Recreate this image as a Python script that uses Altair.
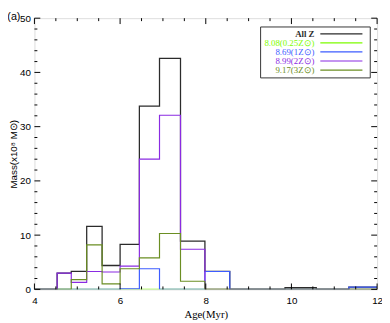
import altair as alt
import pandas as pd

# Bin edges (Myr) and masses (x10^8 Msun) per bin
edges = [4.0, 4.53, 4.86, 5.22, 5.58, 6.00, 6.45, 6.92, 7.41, 7.98, 8.56, 9.18, 9.85, 10.58, 11.34, 12.0]
all_z = [0, 3.0, 3.3, 11.6, 4.4, 8.3, 33.8, 42.6, 8.9, 3.3, 0, 0, 0.3, 0, 0.4]
z025 = [0, 0, 0, 0, 0, 0, 0, 0, 0, 0, 0, 0, 0, 0, 0]
z1 = [0, 0, 0, 0, 0, 0.1, 3.8, 0, 0, 3.3, 0, 0, 0, 0, 0.4]
z2 = [0, 3.0, 1.3, 3.3, 3.2, 4.3, 24.0, 32.1, 7.4, 0, 0, 0, 0, 0, 0]
z3 = [0, 0, 1.8, 8.2, 1.0, 3.8, 5.8, 10.3, 1.5, 0, 0, 0, 0, 0, 0]

series_names = ["All Z", "8.08(0.25Z⊙)", "8.69(1Z⊙)", "8.99(2Z⊙)", "9.17(3Z⊙)"]
series_values = [all_z, z025, z1, z2, z3]
colors = ["#2b2b2b", "#7cfc00", "#3d5cff", "#8a2be2", "#6b8e23"]

x_major = [4, 6, 8, 10, 12]
x_minor = [4.5, 5, 5.5, 6.5, 7, 7.5, 8.5, 9, 9.5, 10.5, 11, 11.5]
y_major = [0, 10, 20, 30, 40, 50]
y_minor = [v for v in range(2, 50, 2) if v % 10 != 0]

W, H = 350, 277

xscale = alt.Scale(domain=[4, 12], nice=False, zero=False)
yscale = alt.Scale(domain=[0, 50], nice=False)

x_axis = alt.Axis(values=x_major, ticks=False, domain=False, grid=False, labelFlush=False,
                  labelPadding=6, labelFont="Liberation Sans", labelFontSize=10, labelColor="#000",
                  title="Age(Myr)", titleFont="Liberation Serif", titleFontSize=11,
                  titleFontWeight="normal", titleColor="#000", titleX=W / 2, titleY=26,
                  titleBaseline="middle", titleAlign="center", labelOverlap=False)
y_axis = alt.Axis(values=y_major, ticks=False, domain=False, grid=False,
                  labelPadding=4, labelFont="Liberation Sans", labelFontSize=10, labelColor="#000",
                  title="Mass(x10⁸ M⊙)", titleFont="Liberation Sans", titleFontSize=10,
                  titleFontWeight="normal", titleColor="#000", titleX=-21, titleY=H / 2,
                  titleAngle=-90, titleAlign="center", titleBaseline="middle", labelOverlap=False)


def X(field):
    return alt.X(field, scale=xscale, axis=x_axis)


def Y(field):
    return alt.Y(field, scale=yscale, axis=y_axis)


layers = []
for i, (name, vals) in enumerate(zip(series_names, series_values)):
    df = pd.DataFrame({"age": edges, "mass": list(vals) + [vals[-1]], "series": name})
    layers.append(
        alt.Chart(df).mark_line(interpolate="step-after", color=colors[i],
                                strokeWidth=1.3 if i == 0 else 1.2, clip=True).encode(
            x=X("age:Q"), y=Y("mass:Q"))
    )


# inward ticks on all four sides
def yticks(vals, length):
    d = pd.DataFrame({"v": vals})
    left = alt.Chart(d).mark_rule(color="#000", strokeWidth=1).encode(
        y=Y("v:Q"), x=alt.value(0), x2=alt.value(length))
    right = alt.Chart(d).mark_rule(color="#000", strokeWidth=1).encode(
        y=Y("v:Q"), x=alt.value(W), x2=alt.value(W - length))
    return [left, right]


def xticks(vals, length):
    d = pd.DataFrame({"v": vals})
    bottom = alt.Chart(d).mark_rule(color="#000", strokeWidth=1).encode(
        x=X("v:Q"), y=alt.value(H), y2=alt.value(H - length))
    top = alt.Chart(d).mark_rule(color="#000", strokeWidth=1).encode(
        x=X("v:Q"), y=alt.value(0), y2=alt.value(length))
    return [bottom, top]


tick_layers = yticks(y_major, 6) + yticks(y_minor, 3) + xticks(x_major, 6) + xticks(x_minor, 3)

# legend box
dummy = pd.DataFrame({"a": [0]})
legend_layers = [
    alt.Chart(dummy).mark_rect(fill="white", stroke="#333", strokeWidth=1).encode(
        x=alt.value(231), x2=alt.value(343), y=alt.value(9), y2=alt.value(61))
]
for i, name in enumerate(series_names):
    yy = 16 + 9.25 * i
    legend_layers.append(
        alt.Chart(dummy).mark_text(align="right", baseline="middle", font="Liberation Serif",
                                   fontSize=9, fontWeight="bold" if i == 0 else "normal",
                                   color=colors[i], text=name).encode(
            x=alt.value(286), y=alt.value(yy)))
    legend_layers.append(
        alt.Chart(dummy).mark_rule(color=colors[i], strokeWidth=1.2).encode(
            x=alt.value(292), x2=alt.value(335), y=alt.value(yy)))

panel_label = alt.Chart(dummy).mark_text(align="center", baseline="top", font="Liberation Sans",
                                         fontSize=11, color="#000", text="(a)").encode(
    x=alt.value(-21), y=alt.value(-7))

chart = alt.layer(*layers, *tick_layers, *legend_layers, panel_label).properties(
    width=W, height=H,
    autosize=alt.AutoSizeParams(type="none"),
    padding={"left": 27, "top": 7, "right": 5, "bottom": 33},
).configure_view(stroke="#000", strokeWidth=1).configure(background="white")

chart.save("out.html", embed_options={"renderer": "svg", "actions": False})
